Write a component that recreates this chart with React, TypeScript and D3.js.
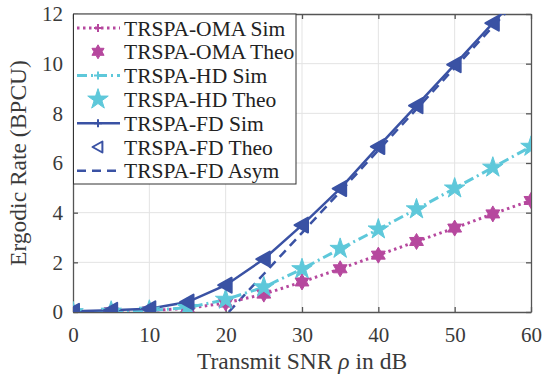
import * as d3 from 'd3';
import { useEffect, useRef } from 'react';

const snr = [0, 5, 10, 15, 20, 25, 30, 35, 40, 45, 50, 55, 60];
const omaRate = [0.0, 0.02, 0.05, 0.15, 0.36, 0.72, 1.21, 1.74, 2.29, 2.84, 3.38, 3.95, 4.49];
const hdRate = [0.0, 0.02, 0.06, 0.17, 0.5, 1.0, 1.73, 2.55, 3.33, 4.14, 4.98, 5.82, 6.66];
const fdRate = [0.03, 0.07, 0.13, 0.4, 1.08, 2.13, 3.5, 4.97, 6.66, 8.31, 9.96, 11.63, 13.3];
const asymSnr = [20.4, 25, 30, 35, 40, 45, 50, 55, 60];
const asymRate = [0.0, 1.53, 3.19, 4.85, 6.51, 8.17, 9.83, 11.49, 13.15];
const xTicks = [0, 10, 20, 30, 40, 50, 60];
const yTicks = [0, 2, 4, 6, 8, 10, 12];

const MAGENTA = '#b6489e';
const CYAN = '#5ec8da';
const BLUE = '#3a52a4';

export default function App() {
  const ref = useRef<SVGSVGElement>(null);

  useEffect(() => {
    const W = 553, H = 377;
    const m = { left: 73, right: 22, top: 14, bottom: 65 };
    const w = W - m.left - m.right, h = H - m.top - m.bottom;
    const font = 'Liberation Serif';

    const svg = d3.select(ref.current);
    svg.selectAll('*').remove();

    const x = d3.scaleLinear().domain([0, 60]).range([0, w]);
    const y = d3.scaleLinear().domain([0, 12]).range([h, 0]);

    svg.append('defs').append('clipPath').attr('id', 'plotclip')
      .append('rect').attr('width', w).attr('height', h);

    const g = svg.append('g').attr('transform', `translate(${m.left},${m.top})`);
    g.append('rect').attr('width', w).attr('height', h).attr('fill', '#fff');

    // grid
    g.append('g').selectAll('line').data(xTicks.slice(1, -1)).enter().append('line')
      .attr('x1', d => x(d)).attr('x2', d => x(d)).attr('y1', 0).attr('y2', h)
      .attr('stroke', '#e3e3e3').attr('stroke-width', 1);
    g.append('g').selectAll('line').data(yTicks.slice(1, -1)).enter().append('line')
      .attr('y1', d => y(d)).attr('y2', d => y(d)).attr('x1', 0).attr('x2', w)
      .attr('stroke', '#e3e3e3').attr('stroke-width', 1);

    // axes (ticks inside, MATLAB box)
    const axColor = '#555';
    const xb = g.append('g').attr('transform', `translate(0,${h})`)
      .call(d3.axisBottom(x).tickValues(xTicks).tickSizeInner(-5).tickSizeOuter(0).tickPadding(15));
    const xt = g.append('g').call(d3.axisTop(x).tickValues(xTicks).tickSizeInner(-5).tickSizeOuter(0).tickFormat(() => ''));
    const yl = g.append('g')
      .call(d3.axisLeft(y).tickValues(yTicks).tickSizeInner(-5).tickSizeOuter(0).tickPadding(10));
    const yr = g.append('g').attr('transform', `translate(${w},0)`)
      .call(d3.axisRight(y).tickValues(yTicks).tickSizeInner(-5).tickSizeOuter(0).tickFormat(() => ''));
    [xb, xt, yl, yr].forEach(a => {
      a.selectAll('path').attr('stroke', axColor).attr('stroke-width', 1.3);
      a.selectAll('line').attr('stroke', axColor).attr('stroke-width', 1.3);
      a.selectAll('text').attr('fill', '#3a3a3a').attr('font-family', font).attr('font-size', 21);
    });

    const plot = g.append('g').attr('clip-path', 'url(#plotclip)');
    const line = d3.line<[number, number]>().x(d => x(d[0])).y(d => y(d[1]));

    const pts = (vals: number[], xs = snr) => xs.map((s, i) => [s, vals[i]] as [number, number]);

    // asymptote
    plot.append('path').attr('d', line(pts(asymRate, asymSnr)))
      .attr('fill', 'none').attr('stroke', BLUE).attr('stroke-width', 2.5).attr('stroke-dasharray', '9,6');
    // OMA
    plot.append('path').attr('d', line(pts(omaRate)))
      .attr('fill', 'none').attr('stroke', MAGENTA).attr('stroke-width', 3).attr('stroke-dasharray', '2.5,3.5');
    // HD
    plot.append('path').attr('d', line(pts(hdRate)))
      .attr('fill', 'none').attr('stroke', CYAN).attr('stroke-width', 3).attr('stroke-dasharray', '10,4,2,4');
    // FD
    plot.append('path').attr('d', line(pts(fdRate)))
      .attr('fill', 'none').attr('stroke', BLUE).attr('stroke-width', 2.5);

    const hexagram = (r: number) => {
      const a = d3.range(12).map(i => {
        const ang = -Math.PI / 2 + (i * Math.PI) / 6;
        const rr = i % 2 === 0 ? r : r * 0.58;
        return [rr * Math.cos(ang), rr * Math.sin(ang)];
      });
      return 'M' + a.map(p => p.join(',')).join('L') + 'Z';
    };
    const star5 = d3.symbol(d3.symbolStar, 130)();
    const tri = (r: number) => `M${-r},0L${r * 0.8},${-r}L${r * 0.8},${r}Z`;
    const plus = 'M-4,0L4,0M0,-4L0,4';

    const drawMarkers = (vals: number[], path: string, fill: string, stroke: string, sw: number) => {
      plot.append('g').selectAll('path').data(pts(vals)).enter().append('path')
        .attr('transform', d => `translate(${x(d[0])},${y(d[1])})`)
        .attr('d', path).attr('fill', fill).attr('stroke', stroke).attr('stroke-width', sw)
        .attr('stroke-linejoin', 'round');
    };
    drawMarkers(omaRate, plus, 'none', MAGENTA, 1.5);
    drawMarkers(omaRate, hexagram(8), MAGENTA, MAGENTA, 1);
    drawMarkers(hdRate, plus, 'none', CYAN, 1.5);
    drawMarkers(hdRate, star5, CYAN, CYAN, 1);
    drawMarkers(fdRate, plus, 'none', BLUE, 1.5);
    drawMarkers(fdRate, tri(7.5), BLUE, BLUE, 2);

    // legend
    const lg = g.append('g');
    lg.append('rect').attr('x', 0.5).attr('y', 0).attr('width', 222.5).attr('height', 170)
      .attr('fill', '#fff').attr('stroke', '#333').attr('stroke-width', 1);
    const items = [
      { label: 'TRSPA-OMA Sim', color: MAGENTA, dash: '2.5,3.5', w: 3, mk: plus, fill: 'none' },
      { label: 'TRSPA-OMA Theo', color: MAGENTA, dash: null, w: 0, mk: hexagram(7), fill: MAGENTA },
      { label: 'TRSPA-HD Sim', color: CYAN, dash: '10,4,2,4', w: 3, mk: plus, fill: 'none' },
      { label: 'TRSPA-HD Theo', color: CYAN, dash: null, w: 0, mk: star5, fill: CYAN },
      { label: 'TRSPA-FD Sim', color: BLUE, dash: '', w: 2.5, mk: plus, fill: 'none' },
      { label: 'TRSPA-FD Theo', color: BLUE, dash: null, w: 0, mk: tri(5.5), fill: 'none' },
      { label: 'TRSPA-FD Asym', color: BLUE, dash: '9,6', w: 2.5, mk: null, fill: 'none' },
    ];
    items.forEach((it, i) => {
      const cy = 14 + i * 23.8;
      const row = lg.append('g').attr('transform', `translate(0,${cy})`);
      if (it.dash !== null) {
        row.append('line').attr('x1', 4).attr('x2', 47).attr('y1', 0).attr('y2', 0)
          .attr('stroke', it.color).attr('stroke-width', it.w)
          .attr('stroke-dasharray', it.dash || null);
      }
      if (it.mk) {
        row.append('path').attr('transform', 'translate(25,0)').attr('d', it.mk)
          .attr('fill', it.fill).attr('stroke', it.color)
          .attr('stroke-width', it.fill === 'none' ? 2 : 1).attr('stroke-linejoin', 'round');
      }
      row.append('text').attr('x', 51).attr('y', 7.5).text(it.label)
        .attr('font-family', font).attr('font-size', 21.5).attr('fill', '#222');
    });

    // axis labels
    svg.append('text').attr('x', m.left + w / 2).attr('y', H - 8).attr('text-anchor', 'middle')
      .attr('font-family', font).attr('font-size', 23.5).attr('fill', '#3a3a3a')
      .html('Transmit SNR <tspan font-style="italic">ρ</tspan> in dB');
    svg.append('text').attr('transform', `translate(26,${m.top + h / 2}) rotate(-90)`)
      .attr('text-anchor', 'middle').attr('font-family', font).attr('font-size', 23.5).attr('fill', '#3a3a3a')
      .text('Ergodic Rate (BPCU)');
  }, []);

  return (
    <svg ref={ref} width={553} height={377}
      style={{ position: 'absolute', left: 0, top: 0, background: '#fff' }} />
  );
}
